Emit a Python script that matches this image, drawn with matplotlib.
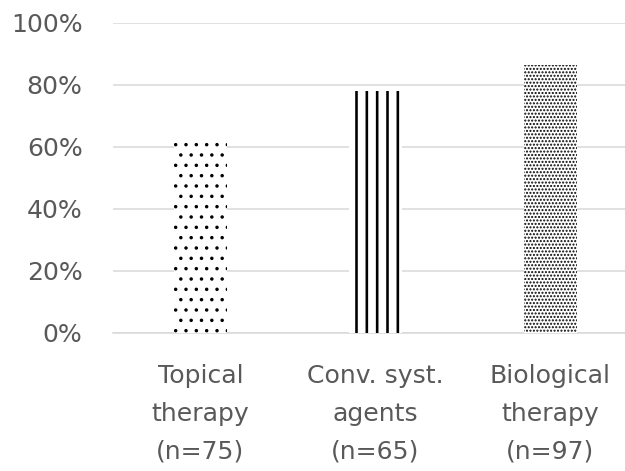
import matplotlib.pyplot as plt

# Share of patients per therapy group
categories = ['Topical\ntherapy\n(n=75)', 'Conv. syst.\nagents\n(n=65)', 'Biological\ntherapy\n(n=97)']
values = [0.62, 0.78, 0.865]
hatches = ['.', '|', '...']
yticks = [0, 0.2, 0.4, 0.6, 0.8, 1.0]
ytick_labels = ['0%', '20%', '40%', '60%', '80%', '100%']

# dpi 62.5 keeps the hatch spacing close to the original
fig = plt.figure(figsize=(10, 7.536), dpi=62.5)
ax = fig.add_axes([0.1808, 0.293, 0.8192, 0.659])

bars = ax.bar(range(len(categories)), values, width=0.30, color='white',
              edgecolor='black', linewidth=0, zorder=3)
for b, h in zip(bars, hatches):
    b.set_hatch(h)
    try:
        b.set_hatch_linewidth(3.0 if h == '|' else 1.6)
    except AttributeError:
        pass

ax.set_ylim(0, 1)
ax.set_xlim(-0.5, 2.426)
ax.set_yticks(yticks)
ax.set_yticklabels(ytick_labels)
ax.set_xticks(range(len(categories)))
ax.set_xticklabels(categories, linespacing=1.72)

ax.grid(axis='y', color='#d9d9d9', linewidth=1.8, zorder=0)
for s in ['top', 'right', 'left']:
    ax.spines[s].set_visible(False)
ax.spines['bottom'].set_color('#d9d9d9')
ax.spines['bottom'].set_linewidth(1.8)

ax.tick_params(axis='y', length=0, pad=35, labelsize=29, labelcolor='#595959')
ax.tick_params(axis='x', length=0, pad=36, labelsize=29, labelcolor='#595959')

fig.savefig('out.png', dpi=62.5)
